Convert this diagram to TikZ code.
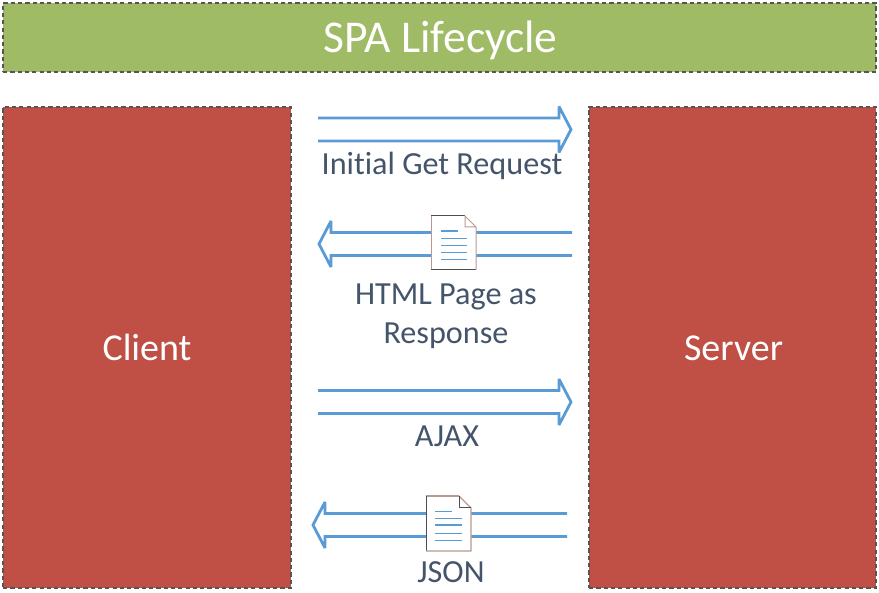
\documentclass[tikz,border=0pt]{standalone}
\usepackage{fontspec}
\setmainfont{Carlito}[Ligatures=NoCommon]
\usetikzlibrary{calc}
\definecolor{barGreen}{HTML}{9FBB66}
\definecolor{boxRed}{HTML}{C05046}
\definecolor{edgeGrey}{HTML}{555555}
\definecolor{arrowBlue}{HTML}{5B9BD5}
\definecolor{labelInk}{HTML}{44546A}
\definecolor{docBrown}{HTML}{B89A92}
\definecolor{docDark}{HTML}{4F4F4F}
\tikzset{
  x=1pt,y=-1pt,
  panel/.style={draw=edgeGrey,line width=2pt,dash pattern=on 4.2pt off 3.1pt,minimum height=0pt,inner sep=0pt,outer sep=0pt,text=white,anchor=north west},
  blockline/.style={draw=arrowBlue,line width=2.8pt,line join=miter,miter limit=3},
  lbl/.style={text=labelInk,font=\fontsize{32.2}{32}\selectfont,inner sep=0pt,anchor=base},
  docline/.style={draw=arrowBlue,line width=0.9pt},
  docthick/.style={draw=arrowBlue,line width=1.6pt},
}
% #1 tail coordinate, #2 tip coordinate, #3 direction (+1 right, -1 left)
\newcommand{\hollowarrow}[3]{%
  \draw[blockline]
    ($(#1)+(0,-11.5)$) -- ($(#2)+({-12*(#3)},-11.5)$) -- ($(#2)+({-12*(#3)},-23)$) -- (#2)
    -- ($(#2)+({-12*(#3)},23)$) -- ($(#2)+({-12*(#3)},11.5)$) -- ($(#1)+(0,11.5)$);
}
\begin{document}
\begin{tikzpicture}
\useasboundingbox (0,0) rectangle (879,593);
\node[panel,fill=barGreen,minimum width=873pt,minimum height=69pt,font=\fontsize{45.5}{45}\selectfont] (title) at (3,3) {\hspace*{2pt}\raisebox{-15.2pt}[0pt][0pt]{SPA Lifecycle}};
\node[panel,fill=boxRed,minimum width=288pt,minimum height=481pt,font=\fontsize{38}{38}\selectfont] (client) at (3,107) {\raisebox{-13.5pt}[0pt][0pt]{Client}};
\node[panel,fill=boxRed,minimum width=287pt,minimum height=481pt,font=\fontsize{38}{38}\selectfont] (server) at (589,107) {\hspace*{2pt}\raisebox{-13.5pt}[0pt][0pt]{Server}};

\coordinate (a1tail) at (318,129.5); \coordinate (a1tip) at (571,129.5);
\coordinate (a2tail) at (572,244);   \coordinate (a2tip) at (319,244);
\coordinate (a3tail) at (318,402);   \coordinate (a3tip) at (571,402);
\coordinate (a4tail) at (567,525);   \coordinate (a4tip) at (313,525);
\hollowarrow{a1tail}{a1tip}{1}
\hollowarrow{a2tail}{a2tip}{-1}
\hollowarrow{a3tail}{a3tip}{1}
\hollowarrow{a4tail}{a4tip}{-1}

\node[lbl] (l1) at (442,175) {Initial Get Request};
\node[lbl] (l2a) at (446,305) {HTML Page as};
\node[lbl] (l2b) at (446,344) {Response};
\node[lbl] (l3) at (447,447) {AJAX};
\node[lbl] (l4) at (451,583) {JSON};

% document icon 1
\fill[white] (431,216) -- (465,216) -- (476,227) -- (476,270) -- (431,270) -- cycle;
\draw[docDark,line width=1pt] (465,216) -- (431,216);
\draw[docBrown,line width=1pt] (431,216) -- (431,270);
\draw[docDark,line width=1pt] (431,270) -- (476,270);
\draw[docBrown,line width=1pt] (476,270) -- (476,227) -- (465,216) -- (465,227) -- (476,227);
\draw[docthick] (441,231) -- (458,231);
\foreach \yy in {238,245,252,259} \draw[docline] (441,\yy) -- (467,\yy);

% document icon 2
\fill[white] (426,496) -- (459,496) -- (471,508) -- (471,551) -- (426,551) -- cycle;
\draw[docBrown,line width=1.4pt] (426,496) -- (459,496);
\draw[docDark,line width=1pt] (426,496) -- (426,551);
\draw[docBrown,line width=1.4pt] (426,551) -- (471,551) -- (471,508) -- (459,496);
\draw[docDark,line width=1pt] (459,496) -- (459,508) -- (471,508);
\draw[docline] (435,511) -- (452,511);
\draw[docline] (435,518) -- (462,518);
\draw[docthick] (435,525) -- (462,525);
\draw[docline] (435,533) -- (462,533);
\draw[docline] (435,540) -- (462,540);
\end{tikzpicture}
\end{document}
